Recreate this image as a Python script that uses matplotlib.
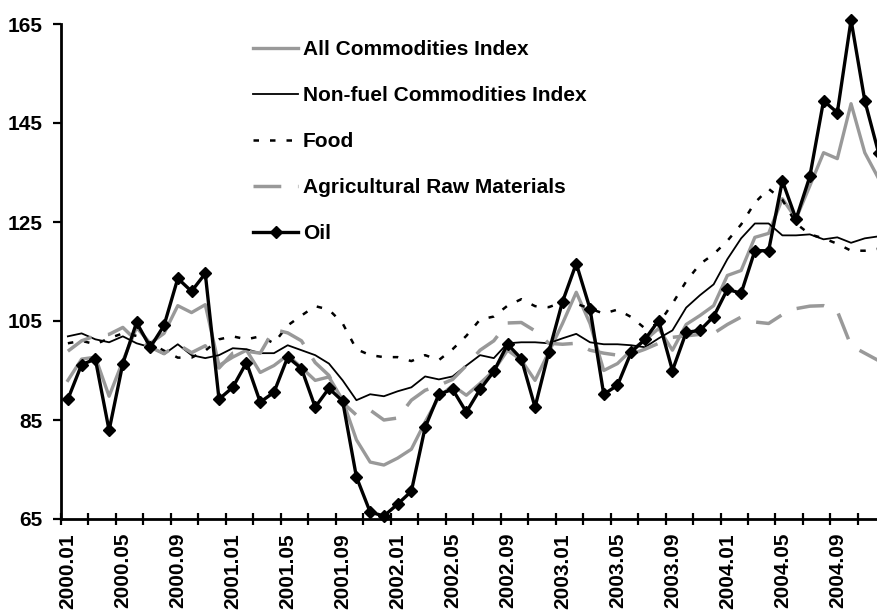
import matplotlib
matplotlib.use("Agg")
import matplotlib.pyplot as plt

plt.rcParams['font.family'] = ['Liberation Sans', 'DejaVu Sans']
plt.rcParams['font.weight'] = 'bold'

# Monthly categories 2000.01 - 2004.12
months = [f"{y}.{m:02d}" for y in range(2000, 2005) for m in range(1, 13)]
tick_labels = ['2000.01', '2000.05', '2000.09', '2001.01', '2001.05', '2001.09',
               '2002.01', '2002.05', '2002.09', '2003.01', '2003.05', '2003.09',
               '2004.01', '2004.05', '2004.09']

all_commodities = [93.0, 97.3, 97.7, 89.8, 96.9, 103.7, 100.5, 102.5, 108.1, 106.7,
                   108.3, 96.0, 97.7, 99.1, 94.6, 96.0, 98.1, 95.6, 93.0, 93.7,
                   89.0, 81.0, 76.5, 75.9, 77.3, 79.1, 84.6, 89.6, 92.0, 90.0,
                   92.4, 95.0, 99.1, 97.1, 93.0, 98.7, 104.5, 110.8, 104.5, 95.0,
                   96.4, 99.1, 101.1, 103.5, 99.1, 104.3, 106.1, 108.1, 114.2, 115.2,
                   121.9, 122.7, 129.7, 125.7, 132.3, 139.0, 137.8, 148.9, 139.0, 133.8]

non_fuel = [101.9, 102.5, 101.3, 100.7, 101.9, 100.5, 99.7, 98.3, 100.3, 98.1,
            97.5, 98.1, 99.5, 99.3, 98.5, 98.5, 100.1, 99.1, 98.1, 96.4,
            93.0, 89.0, 90.2, 89.8, 90.8, 91.6, 93.8, 93.2, 93.8, 96.0,
            98.1, 97.5, 100.5, 100.7, 100.7, 100.5, 101.5, 102.4, 100.7, 100.3,
            100.3, 100.1, 99.7, 101.5, 103.1, 107.7, 110.2, 112.4, 117.5, 121.7,
            124.7, 124.7, 122.3, 122.3, 122.5, 121.5, 121.9, 120.8, 121.7, 122.1]

food = [100.5, 101.0, 100.3, 101.5, 102.5, 102.0, 100.5, 99.0, 97.6, 97.6,
        99.0, 101.3, 101.9, 101.3, 101.9, 100.5, 104.1, 106.1, 108.0, 107.3,
        104.5, 99.3, 98.1, 97.7, 97.7, 96.9, 98.1, 97.1, 99.3, 102.0,
        105.3, 105.9, 108.1, 109.4, 108.0, 107.8, 108.8, 108.5, 107.5, 106.5,
        107.3, 105.8, 103.5, 104.5, 108.5, 113.0, 116.5, 118.5, 121.2, 124.5,
        128.9, 131.7, 129.5, 124.7, 122.5, 121.7, 120.6, 119.2, 119.2, 119.6]

agri_raw = [98.9, 101.0, 102.0, 102.3, 103.7, 101.0, 99.7, 98.4, 100.3, 98.6,
            100.0, 95.5, 98.5, 98.9, 98.5, 103.3, 102.6, 101.0, 96.6, 94.0,
            88.5, 86.0, 87.0, 85.0, 85.4, 89.0, 91.0, 92.0, 93.2, 96.0,
            99.1, 101.0, 104.6, 104.7, 103.0, 100.5, 100.3, 100.5, 99.1, 98.5,
            98.1, 98.3, 99.3, 100.5, 101.7, 102.0, 102.3, 102.5, 104.3, 105.8,
            104.8, 104.5, 106.3, 107.5, 108.0, 108.1, 107.0, 100.0, 98.5, 97.0]

oil = [89.2, 96.2, 97.3, 82.9, 96.4, 104.7, 99.7, 104.1, 113.6, 111.0,
       114.6, 89.2, 91.6, 96.6, 88.6, 90.6, 97.7, 95.4, 87.6, 91.4,
       88.8, 73.5, 66.4, 65.6, 68.0, 70.6, 83.5, 90.2, 91.2, 86.6,
       91.2, 94.8, 100.3, 97.4, 87.6, 98.7, 108.9, 116.6, 107.5, 90.2,
       92.0, 98.7, 101.3, 105.1, 95.0, 102.7, 103.1, 105.9, 111.4, 110.6,
       119.2, 119.2, 133.3, 125.6, 134.2, 149.5, 147.1, 165.8, 149.5, 139.0]

GRAY = '#999999'
FS = 15

fig = plt.figure(figsize=(8.78, 6.11), dpi=100)
W, H = 878, 611
ax = fig.add_axes([61 / W, (H - 519) / H, (885.4 - 61) / W, (519 - 24) / H])

x = list(range(len(months)))

l1, = ax.plot(x, all_commodities, color=GRAY, lw=2.4, label='All Commodities Index')
l2, = ax.plot(x, non_fuel, color='black', lw=1.3, label='Non-fuel Commodities Index')
l3, = ax.plot(x, food, color='black', lw=1.8, label='Food')
l3.set_dashes([2.2, 4.4])
l4, = ax.plot(x, agri_raw, color=GRAY, lw=2.5, label='Agricultural Raw Materials')
l4.set_dashes([8.0, 4.8])
l5, = ax.plot(x, oil, color='black', lw=2.4, marker='D', markersize=6.5,
              label='Oil', clip_on=False, zorder=5)

ax.set_xlim(-0.5, len(months) - 0.5)
ax.set_ylim(65, 165)
ax.set_yticks([65, 85, 105, 125, 145, 165])

ax.set_xticks([i - 0.5 for i in range(0, len(months) + 1, 2)], minor=True)
ax.set_xticks([months.index(t) for t in tick_labels])
ax.set_xticklabels(tick_labels, rotation=90)
ax.tick_params(axis='x', which='major', length=0, pad=10, labelsize=FS)
ax.tick_params(axis='x', which='minor', direction='inout', length=8, width=1.6)
ax.tick_params(axis='y', direction='out', length=6, width=1.6, pad=7, labelsize=FS)

for s in ['top', 'right']:
    ax.spines[s].set_visible(False)
for s in ['left', 'bottom']:
    ax.spines[s].set_linewidth(2.0)

for lbl in ax.get_xticklabels() + ax.get_yticklabels():
    lbl.set_fontweight('bold')

leg = ax.legend(handles=[l1, l2, l3, l4, l5], loc='upper left',
                bbox_to_anchor=(253 / W, 1 - 40 / H), bbox_transform=fig.transFigure,
                frameon=False, handlelength=2.16, handletextpad=0.24,
                labelspacing=1.3, borderpad=0, borderaxespad=0, numpoints=1,
                prop={'weight': 'bold', 'size': FS})

fig.savefig('out.png', dpi=100)
